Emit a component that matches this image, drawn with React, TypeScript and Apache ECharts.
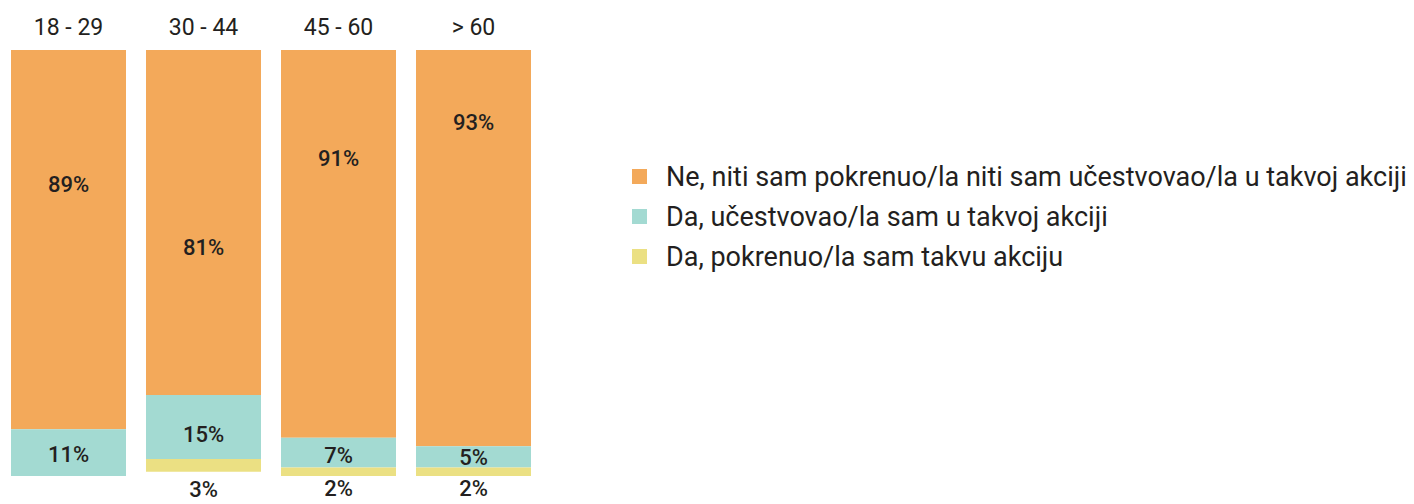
import React, { useEffect, useRef } from "react";
import * as echarts from "echarts";

const categories = ["18 - 29", "30 - 44", "45 - 60", "> 60"];
const seriesNames = [
  "Ne, niti sam pokrenuo/la niti sam učestvovao/la u takvoj akciji",
  "Da, učestvovao/la sam u takvoj akciji",
  "Da, pokrenuo/la sam takvu akciju",
];
const noValues = [89, 81, 91, 93];
const participatedValues = [11, 15, 7, 5];
const initiatedValues = [0, 3, 2, 2];

const colors = ["#F3A95A", "#A3DAD2", "#EBE083"];
const FONT = "Roboto";
const TEXT = "#231F20";

// label vertical offsets (styling only)
const noOffsets = [-55, 25, -85, -126];
const partOffsets = [2, 7, 3, 1];
const initOffsets = [0, 24, 17, 17];

export default function App() {
  const ref = useRef<HTMLDivElement>(null);
  useEffect(() => {
    if (!ref.current) return;
    const chart = echarts.init(ref.current, undefined, { renderer: "svg" });
    const labelBase = {
      show: true,
      position: "inside",
      color: TEXT,
      fontFamily: FONT,
      fontSize: 22,
      fontWeight: 500,
      formatter: (p: any) => `${p.value}%`,
    };
    chart.setOption({
      animation: false,
      backgroundColor: "#ffffff",
      textStyle: { fontFamily: FONT },
      grid: { left: 1, top: 50, width: 540, bottom: 28, containLabel: false },
      legend: {
        orient: "vertical",
        left: 627,
        top: 158,
        icon: "rect",
        itemWidth: 15,
        itemHeight: 15,
        itemGap: 13,
        textStyle: { fontFamily: FONT, fontSize: 27, color: TEXT, padding: [0, 0, 0, 14] },
        data: seriesNames,
      },
      xAxis: {
        type: "category",
        position: "top",
        data: categories,
        axisLine: { show: false },
        axisTick: { show: false },
        axisLabel: { color: TEXT, fontFamily: FONT, fontSize: 23, margin: 11 },
      },
      yAxis: {
        type: "value",
        min: 0,
        max: 100,
        inverse: true,
        show: false,
      },
      series: [
        {
          name: seriesNames[0],
          type: "bar",
          stack: "a",
          barWidth: 115,
          itemStyle: { color: colors[0] },
          data: noValues.map((v, i) => ({
            value: v,
            label: { ...labelBase, offset: [0, noOffsets[i]] },
          })),
        },
        {
          name: seriesNames[1],
          type: "bar",
          stack: "a",
          barWidth: 115,
          itemStyle: { color: colors[1] },
          data: participatedValues.map((v, i) => ({
            value: v,
            label: { ...labelBase, offset: [0, partOffsets[i]] },
          })),
        },
        {
          name: seriesNames[2],
          type: "bar",
          stack: "a",
          barWidth: 115,
          itemStyle: { color: colors[2] },
          data: initiatedValues.map((v, i) => ({
            value: v,
            label: { ...labelBase, show: v > 0, offset: [0, initOffsets[i]] },
          })),
        },
      ],
    });
    return () => chart.dispose();
  }, []);
  return (
    <div
      ref={ref}
      style={{ position: "fixed", left: 0, top: 0, width: 1414, height: 504 }}
    />
  );
}
